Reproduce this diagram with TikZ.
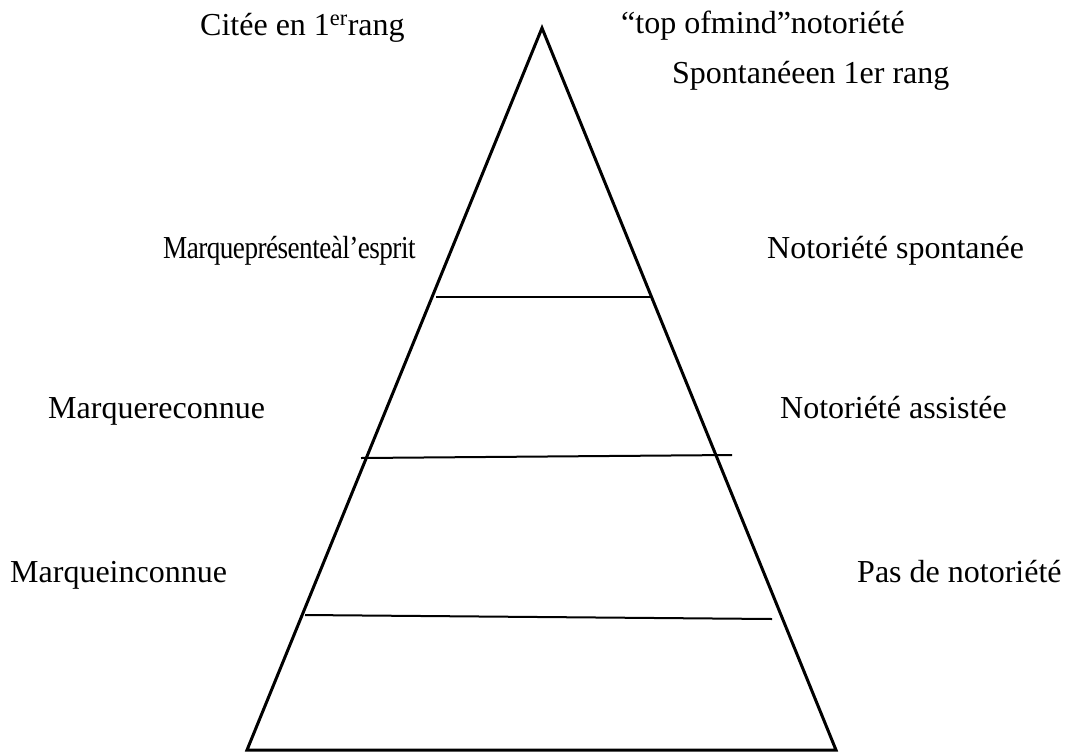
\documentclass[tikz,border=0pt]{standalone}
\usepackage{fontspec}
\setmainfont{Liberation Serif}
\newfontfamily\tightserif[LetterSpace=-2]{Liberation Serif}
\begin{document}
\begin{tikzpicture}[x=1pt,y=-1pt,
  lbl/.style={anchor=base west,inner sep=0pt,font=\fontsize{32}{36}\selectfont},
  side/.style={line width=3pt,line join=miter},
  level/.style={line width=2pt}]
\useasboundingbox (0,0) rectangle (1071,753);
% pyramid outline
\coordinate (apex) at (542,28);
\coordinate (bl) at (247,750);
\coordinate (br) at (836,750);
\draw[side] (bl) -- (apex) -- (br) -- cycle;
% level separators
\coordinate (l1a) at (436,297); \coordinate (l1b) at (652,297);
\coordinate (l2a) at (361,458); \coordinate (l2b) at (732,455);
\coordinate (l3a) at (305,615); \coordinate (l3b) at (772,619);
\draw[level] (l1a) -- (l1b);
\draw[level] (l2a) -- (l2b);
\draw[level] (l3a) -- (l3b);
% left labels
\node[lbl] (t1) at (200,35) {Citée en 1\textsuperscript{er}rang};
\node[lbl] (t2) at (163,258) {\scalebox{0.85}[1]{\tightserif Marqueprésenteàl’esprit}};
\node[lbl] (t3) at (48,418) {Marquereconnue};
\node[lbl] (t4) at (10,582) {Marqueinconnue};
% right labels
\node[lbl] (r0) at (621,33) {“top ofmind”notoriété};
\node[lbl] (r1) at (672,83) {Spontanéeen 1er rang};
\node[lbl] (r2) at (767,258) {Notoriété spontanée};
\node[lbl] (r3) at (780,418) {Notoriété assistée};
\node[lbl] (r4) at (857,582) {Pas de notoriété};
\end{tikzpicture}
\end{document}
